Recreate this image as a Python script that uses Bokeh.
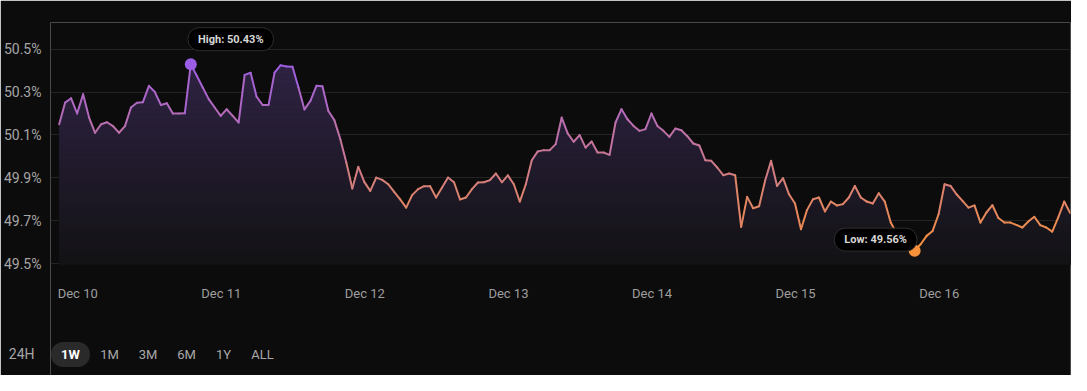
import numpy as np
from bokeh.plotting import figure
from bokeh.models import Range1d, FixedTicker, Label, CustomJSTickFormatter
from bokeh.embed import file_html
from bokeh.resources import INLINE

# hourly values (%) from Dec 10 00:00
values = [
    50.150, 50.251, 50.271, 50.200, 50.290, 50.181, 50.110, 50.150, 50.159, 50.141,
    50.110, 50.141, 50.228, 50.250, 50.253, 50.329, 50.300, 50.240, 50.248, 50.200,
    50.200, 50.201, 50.430, 50.376, 50.321, 50.267, 50.228, 50.189, 50.220, 50.189,
    50.158, 50.380, 50.390, 50.278, 50.240, 50.240, 50.391, 50.425, 50.419, 50.418,
    50.321, 50.219, 50.259, 50.329, 50.327, 50.212, 50.169, 50.080, 49.971, 49.850,
    49.951, 49.881, 49.839, 49.901, 49.890, 49.870, 49.834, 49.799, 49.761, 49.819,
    49.847, 49.861, 49.861, 49.808, 49.855, 49.901, 49.879, 49.799, 49.808, 49.847,
    49.878, 49.879, 49.889, 49.920, 49.879, 49.911, 49.870, 49.789, 49.870, 49.982,
    50.023, 50.029, 50.029, 50.057, 50.181, 50.107, 50.068, 50.099, 50.041, 50.069,
    50.018, 50.018, 50.007, 50.158, 50.220, 50.173, 50.142, 50.119, 50.127, 50.200,
    50.142, 50.119, 50.091, 50.130, 50.122, 50.094, 50.060, 50.051, 49.982, 49.979,
    49.948, 49.912, 49.920, 49.912, 49.671, 49.811, 49.758, 49.767, 49.886, 49.979,
    49.862, 49.898, 49.823, 49.780, 49.660, 49.749, 49.800, 49.808, 49.743, 49.789,
    49.771, 49.777, 49.808, 49.862, 49.808, 49.789, 49.780, 49.828, 49.789, 49.691,
    49.640, 49.600, 49.575, 49.560, 49.590, 49.629, 49.652, 49.730, 49.870, 49.862,
    49.823, 49.792, 49.761, 49.771, 49.691, 49.738, 49.772, 49.712, 49.691, 49.691,
    49.680, 49.668, 49.696, 49.718, 49.679, 49.668, 49.649, 49.715, 49.789, 49.735,
]
day_labels = ["Dec 10", "Dec 11", "Dec 12", "Dec 13", "Dec 14", "Dec 15", "Dec 16"]
y_ticks = [49.5, 49.7, 49.9, 50.1, 50.3, 50.5]
range_buttons = ["24H", "1W", "1M", "3M", "6M", "1Y", "ALL"]
active_button = "1W"

BG = "#0c0c0c"
PURPLE = (155, 93, 229)
ORANGE = (247, 146, 58)

hours = np.arange(len(values), dtype=float)
vals = np.array(values)
vmin, vmax = vals.min(), vals.max()
imax, imin = int(vals.argmax()), int(vals.argmin())

def hexc(c):
    return "#%02x%02x%02x" % tuple(int(round(v)) for v in c)

def line_color(v):
    t = (v - vmin) / (vmax - vmin)
    return hexc([ORANGE[k] + (PURPLE[k] - ORANGE[k]) * t for k in range(3)])

# frame spans the whole lower canvas so the range buttons can sit inside it
y_lo, y_hi = 48.9774, 50.6246
base = 49.4953
p = figure(width=1071, height=375, output_backend="svg", toolbar_location=None,
           x_range=Range1d(-1.45, 169.05), y_range=Range1d(y_lo, y_hi),
           x_axis_location="above",
           min_border_left=45, min_border_right=1, min_border_top=22, min_border_bottom=0,
           background_fill_color=BG, border_fill_color=BG, outline_line_color=None)

# gradient area fill (bands drawn top to bottom so lower ones overlay)
TOPC = (46, 34, 66)
BOTC = (18, 18, 20)
nb = 40
edges = np.linspace(base, vmax, nb + 1)
for i in range(nb, 0, -1):
    hi = edges[i]
    t = (hi - base) / (vmax - base)
    col = hexc([BOTC[k] + (TOPC[k] - BOTC[k]) * t for k in range(3)])
    p.varea(x=hours, y1=np.full_like(vals, base), y2=np.minimum(vals, hi),
            fill_color=col, fill_alpha=1.0)

# gradient line
seg_cols = [line_color((vals[i] + vals[i + 1]) / 2) for i in range(len(vals) - 1)]
p.segment(x0=hours[:-1], y0=vals[:-1], x1=hours[1:], y1=vals[1:],
          line_color=seg_cols, line_width=2, line_cap="round")

# high / low markers
p.scatter(x=[hours[imax]], y=[vmax], size=12, fill_color=hexc(PURPLE), line_color=None)
p.scatter(x=[hours[imin]], y=[vmin], size=12, fill_color=hexc(ORANGE), line_color=None)

common = dict(text_font="Roboto", text_font_size="11px", text_font_style="bold",
              text_color="#d6d6d6", background_fill_color="#000000",
              border_line_color="#2e2e2e", border_line_width=1, border_radius=11,
              padding=dict(left=10, right=10, top=5, bottom=5),
              text_align="center", text_baseline="middle")
p.add_layout(Label(x=hours[imax], y=vmax, x_offset=40, y_offset=25,
                   text="High: %.2f%%" % vmax, **common))
p.add_layout(Label(x=hours[imin], y=vmin, x_offset=-39, y_offset=11,
                   text="Low: %.2f%%" % vmin, **common))

# y axis (the first range button sits in the axis column, below the plot)
btn_row_y = 49.0754
p.yaxis.ticker = FixedTicker(ticks=y_ticks + [btn_row_y])
p.yaxis.formatter = CustomJSTickFormatter(
    args=dict(first=range_buttons[0] + "\u00a0\u00a0"),
    code="return tick < 49.4 ? first : tick.toFixed(1) + '%'")
p.ygrid.ticker = FixedTicker(ticks=y_ticks)
p.ygrid.grid_line_color = "#232323"
p.xgrid.visible = False

# x axis drawn inside the frame, just under the lowest gridline
off = 3.1
p.xaxis.ticker = FixedTicker(ticks=[24 * i + off for i in range(len(day_labels))])
p.xaxis.formatter = CustomJSTickFormatter(args=dict(labels=day_labels, off=off),
                                          code="return labels[Math.round((tick - off) / 24)]")
p.xaxis.fixed_location = 49.271
for ax in (p.xaxis[0], p.yaxis[0]):
    ax.axis_line_color = None
    ax.major_tick_line_color = None
    ax.minor_tick_line_color = None
    ax.major_label_text_font = "Roboto"
p.yaxis.major_label_text_font_size = "14px"
p.yaxis.major_label_text_color = "#a6a6a6"
p.xaxis.major_label_text_font_size = "13px"
p.xaxis.major_label_text_color = "#9e9e9e"
p.yaxis.major_label_standoff = 3
p.xaxis.major_label_standoff = 6

# remaining range buttons (screen units, relative to frame bottom-left)
btn_x = [20, 59, 97.5, 136, 173, 212]
for name, bx in zip(range_buttons[1:], btn_x):
    active = name == active_button
    kw = dict(background_fill_color="#2a2a2a", border_radius=12,
              padding=dict(left=10, right=10, top=5, bottom=5)) if active else {}
    p.add_layout(Label(x=bx, y=21, x_units="screen", y_units="screen", text=name,
                       text_font="Roboto", text_font_size="13px",
                       text_font_style="bold" if active else "normal",
                       text_color="#ffffff" if active else "#a8a8a8",
                       text_align="center", text_baseline="middle", **kw))

html = file_html(p, INLINE)
html = html.replace("<body>", '<body style="margin:8px;background-color:%s;">' % BG, 1)
open("out.html", "w").write(html)
